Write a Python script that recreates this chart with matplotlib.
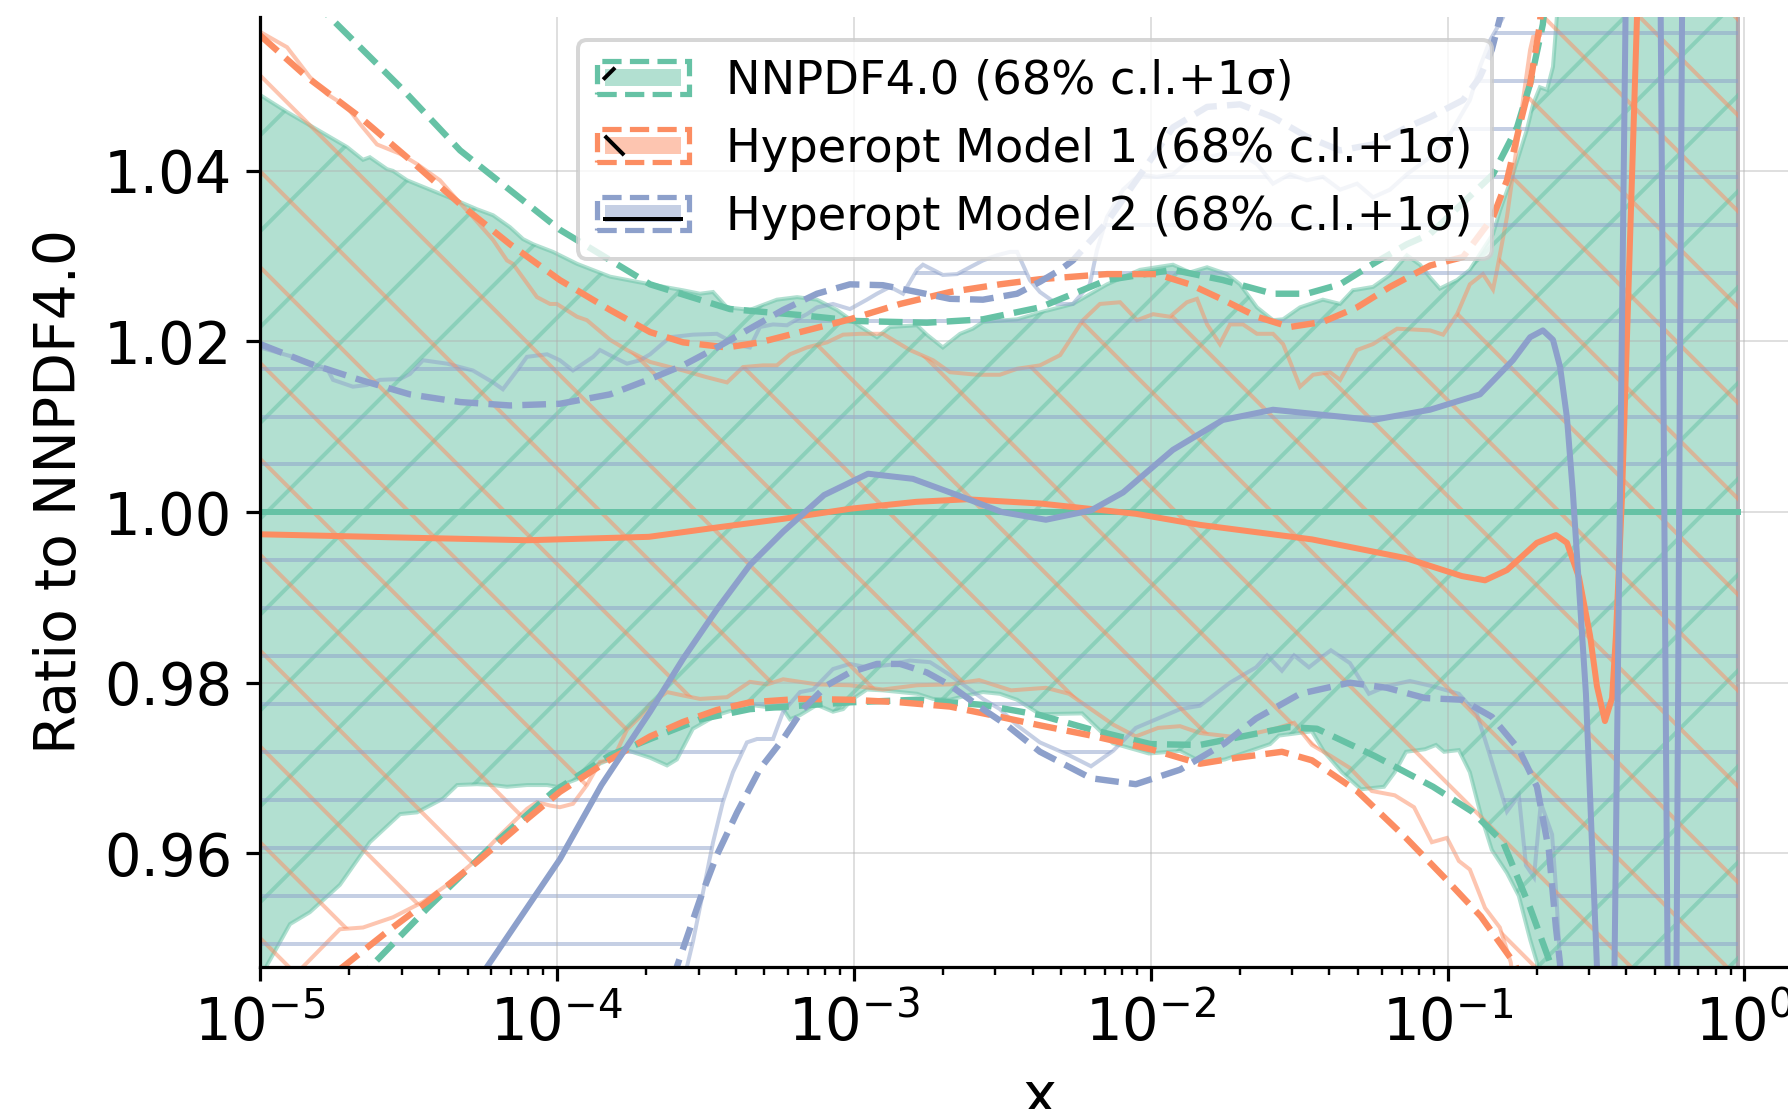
import matplotlib
matplotlib.use("Agg")
import numpy as np
import matplotlib.pyplot as plt
from matplotlib.legend_handler import HandlerBase
from matplotlib.patches import Rectangle
from matplotlib.lines import Line2D
from matplotlib.collections import LineCollection
from matplotlib.transforms import IdentityTransform

GREEN = "#66c2a5"
ORANGE = "#fc8d62"
BLUE = "#8da0cb"

labels = ["NNPDF4.0 (68% c.l.+1σ)",
          "Hyperopt Model 1 (68% c.l.+1σ)",
          "Hyperopt Model 2 (68% c.l.+1σ)"]
yticks = [0.96, 0.98, 1.00, 1.02, 1.04]

# all x values given as log10(x)
# ---- NNPDF4.0 ----
nn_c_lx = [-5.0, -0.022]
nn_c_y = [1.0, 1.0]

nn_up_lx = [-5.0, -4.909, -4.707, -4.653, -4.630, -4.572, -4.552, -4.505, -4.350, -4.269,
            -4.215, -4.158, -4.114, -4.080, -4.013, -3.932, -3.821, -3.686, -3.575, -3.518,
            -3.474, -3.427, -3.350, -3.259, -3.191, -3.124, -3.057, -2.989, -2.922, -2.878,
            -2.787, -2.754, -2.700, -2.642, -2.599, -2.565, -2.450, -2.373, -2.262, -2.147,
            -2.036, -1.925, -1.868, -1.810, -1.743, -1.699, -1.642, -1.588, -1.554, -1.497,
            -1.420, -1.362, -1.319, -1.251, -1.194, -1.137, -1.093, -1.059, -1.026, -0.968,
            -0.925, -0.847, -0.823, -0.780, -0.733, -0.712, -0.689, -0.665, -0.645, -0.632,
            -0.55, -0.022]
nn_up_y = [1.0489, 1.0469, 1.0428, 1.0413, 1.0416, 1.0402, 1.0400, 1.0389, 1.0367, 1.0355,
           1.0348, 1.0334, 1.0320, 1.0314, 1.0305, 1.0291, 1.0276, 1.0267, 1.0260, 1.0256,
           1.0258, 1.0240, 1.0237, 1.0249, 1.0252, 1.0249, 1.0237, 1.0220, 1.0205, 1.0217,
           1.0219, 1.0208, 1.0193, 1.0209, 1.0215, 1.0223, 1.0226, 1.0234, 1.0244, 1.0267,
           1.0284, 1.0290, 1.0281, 1.0287, 1.0279, 1.0267, 1.0240, 1.0225, 1.0226, 1.0240,
           1.0249, 1.0244, 1.0260, 1.0264, 1.0278, 1.0301, 1.0290, 1.0275, 1.0262, 1.0272,
           1.0284, 1.0326, 1.0354, 1.0396, 1.0448, 1.0478, 1.0498, 1.0495, 1.0522, 1.0580,
           1.12, 1.20]

nn_lo_lx = [-5.0, -4.976, -4.899, -4.832, -4.731, -4.630, -4.528, -4.471, -4.384, -4.336,
            -4.269, -4.215, -4.168, -4.101, -4.033, -4.000, -3.932, -3.899, -3.821, -3.764,
            -3.686, -3.629, -3.596, -3.542, -3.461, -3.350, -3.238, -3.215, -3.181, -3.124,
            -3.070, -3.036, -3.003, -2.956, -2.902, -2.844, -2.787, -2.733, -2.676, -2.619,
            -2.565, -2.508, -2.450, -2.373, -2.231, -2.127, -2.006, -1.901, -1.824, -1.750,
            -1.598, -1.568, -1.457, -1.416, -1.356, -1.292, -1.214, -1.178, -1.140, -1.076,
            -1.039, -1.012, -0.962, -0.925, -0.888, -0.851, -0.800, -0.760, -0.722, -0.699,
            -0.60, -0.022]
nn_lo_y = [0.9450, 0.9469, 0.9517, 0.9531, 0.9563, 0.9613, 0.9646, 0.9648, 0.9664, 0.9680,
           0.9681, 0.9680, 0.9678, 0.9680, 0.9680, 0.9678, 0.9687, 0.9699, 0.9710, 0.9721,
           0.9712, 0.9703, 0.9710, 0.9746, 0.9762, 0.9774, 0.9769, 0.9757, 0.9762, 0.9774,
           0.9766, 0.9769, 0.9781, 0.9792, 0.9791, 0.9789, 0.9787, 0.9781, 0.9780, 0.9785,
           0.9789, 0.9787, 0.9780, 0.9763, 0.9764, 0.9729, 0.9717, 0.9720, 0.9706, 0.9710,
           0.9728, 0.9738, 0.9743, 0.9719, 0.9695, 0.9675, 0.9678, 0.9695, 0.9719, 0.9722,
           0.9727, 0.9719, 0.9721, 0.9695, 0.9645, 0.9604, 0.9577, 0.9550, 0.9499, 0.9472,
           0.88, 0.80]

nn_sup_lx = [-5.0, -4.764, -4.518, -4.326, -3.990, -3.686, -3.417, -3.181, -2.989, -2.754,
             -2.565, -2.373, -2.147, -1.925, -1.757, -1.588, -1.474, -1.362, -1.251, -1.137,
             -1.059, -0.847, -0.766, -0.722, -0.679, -0.60, -0.022]
nn_sup_y = [1.0660, 1.0580, 1.0495, 1.0424, 1.0331, 1.0267, 1.0238, 1.0231, 1.0224, 1.0222,
            1.0226, 1.0240, 1.0272, 1.0284, 1.0272, 1.0256, 1.0256, 1.0267, 1.0291, 1.0314,
            1.0326, 1.0396, 1.0451, 1.0502, 1.0572, 1.09, 1.20]

nn_slo_lx = [-5.0, -4.619, -4.438, -4.215, -4.013, -3.821, -3.686, -3.518, -3.350, -3.013,
             -2.787, -2.565, -2.373, -2.2, -2.0, -1.834, -1.534, -1.440, -1.245, -1.049,
             -0.918, -0.813, -0.722, -0.655, -0.55, -0.022]
nn_slo_y = [0.9330, 0.9470, 0.9535, 0.9610, 0.9672, 0.9715, 0.9734, 0.9757, 0.9769, 0.9777,
            0.9780, 0.9774, 0.9762, 0.9745, 0.9728, 0.9727, 0.9748, 0.9746, 0.9714, 0.9678,
            0.9649, 0.9613, 0.9536, 0.9472, 0.93, 0.85]

# ---- Hyperopt Model 1 ----
m1_c_lx = [-5.0, -4.5, -4.1, -3.69, -3.46, -3.24, -3.01, -2.79, -2.62, -2.37,
           -2.05, -1.834, -1.457, -1.140, -0.952, -0.874, -0.800, -0.699, -0.635, -0.598,
           -0.557, -0.520, -0.497, -0.470, -0.446, -0.433, -0.413, -0.362, -0.34, -0.022]
m1_c_y = [0.9974, 0.9970, 0.9967, 0.9971, 0.9982, 0.9992, 1.0004, 1.0012, 1.0015, 1.0010,
          0.9998, 0.9985, 0.9968, 0.9946, 0.9925, 0.9920, 0.9932, 0.9964, 0.9973, 0.9964,
          0.9923, 0.9855, 0.9796, 0.9755, 0.9782, 0.9855, 1.0014, 1.0580, 1.08, 1.10]

m1_up_lx = [-5.0, -4.909, -4.832, -4.774, -4.707, -4.663, -4.606, -4.528, -4.471, -4.394,
            -4.336, -4.283, -4.215, -4.168, -4.148, -4.067, -4.023, -4.000, -3.932, -3.899,
            -3.821, -3.764, -3.686, -3.575, -3.494, -3.427, -3.373, -3.306, -3.259, -3.215,
            -3.158, -3.090, -3.036, -2.979, -2.902, -2.811, -2.733, -2.676, -2.585, -2.508,
            -2.450, -2.373, -2.305, -2.228, -2.171, -2.103, -2.046, -1.992, -1.935, -1.878,
            -1.844, -1.810, -1.767, -1.733, -1.689, -1.642, -1.588, -1.554, -1.497, -1.453,
            -1.396, -1.362, -1.305, -1.251, -1.170, -1.059, -1.015, -0.968, -0.925, -0.881,
            -0.847, -0.834, -0.800, -0.766, -0.746, -0.722, -0.712, -0.689, -0.672, -0.60,
            -0.022]
m1_up_y = [1.0563, 1.0545, 1.0510, 1.0490, 1.0475, 1.0455, 1.0431, 1.0420, 1.0408, 1.0389,
           1.0366, 1.0346, 1.0319, 1.0295, 1.0291, 1.0252, 1.0244, 1.0244, 1.0229, 1.0225,
           1.0202, 1.0190, 1.0176, 1.0166, 1.0158, 1.0152, 1.0170, 1.0172, 1.0172, 1.0185,
           1.0193, 1.0199, 1.0208, 1.0209, 1.0209, 1.0190, 1.0178, 1.0164, 1.0161, 1.0161,
           1.0168, 1.0172, 1.0184, 1.0225, 1.0244, 1.0246, 1.0225, 1.0232, 1.0229, 1.0246,
           1.0250, 1.0220, 1.0197, 1.0220, 1.0220, 1.0209, 1.0209, 1.0197, 1.0147, 1.0161,
           1.0164, 1.0155, 1.0190, 1.0197, 1.0215, 1.0213, 1.0208, 1.0232, 1.0267, 1.0279,
           1.0261, 1.0283, 1.0346, 1.0431, 1.0483, 1.0542, 1.0557, 1.0559, 1.0580, 1.12,
           1.25]

m1_lo_lx = [-5.0, -4.855, -4.731, -4.653, -4.552, -4.451, -4.370, -4.269, -4.192, -4.101,
            -4.067, -4.023, -3.990, -3.946, -3.899, -3.855, -3.811, -3.764, -3.720, -3.686,
            -3.629, -3.575, -3.518, -3.427, -3.350, -3.292, -3.238, -3.124, -3.013, -2.902,
            -2.787, -2.676, -2.578, -2.470, -2.353, -2.275, -2.201, -2.127, -2.050, -1.975,
            -1.901, -1.834, -1.709, -1.581, -1.517, -1.457, -1.393, -1.329, -1.255, -1.178,
            -1.113, -1.053, -1.002, -0.962, -0.925, -0.874, -0.824, -0.787, -0.70, -0.022]
m1_lo_y = [0.9416, 0.9467, 0.9511, 0.9513, 0.9525, 0.9543, 0.9563, 0.9593, 0.9621, 0.9652,
           0.9660, 0.9656, 0.9654, 0.9658, 0.9680, 0.9707, 0.9710, 0.9745, 0.9760, 0.9775,
           0.9789, 0.9785, 0.9781, 0.9783, 0.9801, 0.9798, 0.9804, 0.9798, 0.9797, 0.9792,
           0.9797, 0.9798, 0.9803, 0.9791, 0.9794, 0.9787, 0.9769, 0.9751, 0.9737, 0.9747,
           0.9749, 0.9741, 0.9736, 0.9746, 0.9753, 0.9727, 0.9714, 0.9700, 0.9673, 0.9668,
           0.9654, 0.9613, 0.9618, 0.9591, 0.9581, 0.9536, 0.9513, 0.9472, 0.92, 0.75]

m1_sup_lx = [-5.0, -4.842, -4.663, -4.495, -4.326, -4.158, -3.990, -3.821, -3.686, -3.575,
             -3.427, -3.316, -3.181, -3.013, -2.844, -2.676, -2.508, -2.373, -2.147, -1.979,
             -1.868, -1.757, -1.642, -1.531, -1.420, -1.305, -1.194, -1.059, -0.948, -0.847,
             -0.800, -0.756, -0.722, -0.689, -0.60, -0.022]
m1_sup_y = [1.0559, 1.0510, 1.0463, 1.0413, 1.0361, 1.0314, 1.0272, 1.0237, 1.0211, 1.0199,
            1.0193, 1.0199, 1.0211, 1.0226, 1.0244, 1.0258, 1.0267, 1.0273, 1.0279, 1.0279,
            1.0267, 1.0249, 1.0229, 1.0217, 1.0223, 1.0240, 1.0264, 1.0289, 1.0299, 1.0346,
            1.0389, 1.0455, 1.0502, 1.0572, 1.10, 1.20]

m1_slo_lx = [-5.0, -4.720, -4.572, -4.438, -4.269, -4.101, -3.990, -3.821, -3.686, -3.575,
             -3.461, -3.350, -3.181, -3.013, -2.844, -2.676, -2.508, -2.373, -2.2, -2.0,
             -1.834, -1.709, -1.558, -1.457, -1.305, -1.140, -1.012, -0.888, -0.773, -0.60,
             -0.022]
m1_slo_y = [0.9390, 0.9467, 0.9508, 0.9543, 0.9590, 0.9640, 0.9672, 0.9710, 0.9737, 0.9754,
            0.9768, 0.9777, 0.9781, 0.9780, 0.9777, 0.9772, 0.9760, 0.9750, 0.9738, 0.9722,
            0.9705, 0.9712, 0.9719, 0.9709, 0.9673, 0.9618, 0.9572, 0.9526, 0.9470, 0.93,
            0.85]

# ---- Hyperopt Model 2 ----
m2_c_lx = [-5.0, -4.235, -3.99, -3.85, -3.686, -3.575, -3.461, -3.350, -3.238, -3.10,
           -2.952, -2.801, -2.652, -2.501, -2.353, -2.201, -2.093, -1.925, -1.757, -1.588,
           -1.420, -1.251, -1.059, -0.891, -0.780, -0.722, -0.679, -0.645, -0.621, -0.598,
           -0.578, -0.534, -0.497, -0.46, -0.38, -0.295, -0.245, -0.24, -0.20, -0.022]
m2_c_y = [0.905, 0.9467, 0.9593, 0.9680, 0.9766, 0.9828, 0.9886, 0.9938, 0.9977, 1.0020,
          1.0045, 1.0039, 1.0020, 1.0000, 0.9991, 1.0002, 1.0023, 1.0073, 1.0108, 1.0120,
          1.0114, 1.0108, 1.0120, 1.0138, 1.0178, 1.0205, 1.0213, 1.0202, 1.0170, 1.0111,
          1.0023, 0.9787, 0.9468, 0.88, 1.12, 1.12, 0.88, 0.88, 1.12, 1.12]

m2_up_lx = [-5.0, -4.889, -4.774, -4.754, -4.687, -4.640, -4.596, -4.528, -4.495, -4.451,
            -4.370, -4.283, -4.215, -4.182, -4.134, -4.101, -4.033, -3.990, -3.946, -3.878,
            -3.855, -3.811, -3.764, -3.720, -3.686, -3.619, -3.542, -3.461, -3.393, -3.350,
            -3.316, -3.272, -3.225, -3.191, -3.158, -3.124, -3.070, -3.013, -2.956, -2.922,
            -2.878, -2.834, -2.787, -2.767, -2.733, -2.700, -2.652, -2.609, -2.565, -2.518,
            -2.474, -2.450, -2.407, -2.373, -2.316, -2.262, -2.205, -2.181, -2.147, -2.093,
            -2.036, -1.979, -1.925, -1.868, -1.810, -1.757, -1.699, -1.642, -1.588, -1.531,
            -1.474, -1.420, -1.362, -1.305, -1.251, -1.194, -1.137, -1.059, -0.992, -0.925,
            -0.891, -0.857, -0.813, -0.70, -0.022]
m2_up_y = [1.0193, 1.0182, 1.0168, 1.0155, 1.0147, 1.0149, 1.0155, 1.0156, 1.0162, 1.0178,
           1.0174, 1.0166, 1.0152, 1.0144, 1.0166, 1.0182, 1.0185, 1.0178, 1.0166, 1.0182,
           1.0190, 1.0182, 1.0174, 1.0178, 1.0185, 1.0205, 1.0208, 1.0209, 1.0196, 1.0193,
           1.0217, 1.0220, 1.0219, 1.0226, 1.0232, 1.0240, 1.0244, 1.0238, 1.0249, 1.0256,
           1.0264, 1.0256, 1.0284, 1.0290, 1.0284, 1.0278, 1.0279, 1.0287, 1.0295, 1.0301,
           1.0305, 1.0305, 1.0272, 1.0258, 1.0244, 1.0244, 1.0267, 1.0307, 1.0346, 1.0378,
           1.0396, 1.0393, 1.0396, 1.0413, 1.0416, 1.0420, 1.0420, 1.0408, 1.0385, 1.0396,
           1.0389, 1.0393, 1.0378, 1.0385, 1.0369, 1.0378, 1.0396, 1.0416, 1.0443, 1.0483,
           1.0522, 1.0553, 1.0580, 1.12, 1.25]

m2_lo_lx = [-5.0, -4.0, -3.562, -3.542, -3.508, -3.474, -3.441, -3.407, -3.360, -3.326,
            -3.272, -3.238, -3.181, -3.137, -3.070, -3.013, -2.956, -2.878, -2.811, -2.743,
            -2.676, -2.609, -2.565, -2.508, -2.450, -2.373, -2.275, -2.201, -2.127, -2.050,
            -1.901, -1.834, -1.733, -1.645, -1.608, -1.558, -1.517, -1.467, -1.416, -1.393,
            -1.329, -1.265, -1.204, -1.127, -1.053, -0.962, -0.901, -0.861, -0.800, -0.760,
            -0.736, -0.709, -0.686, -0.648, -0.635, -0.621, -0.55, -0.022]
m2_lo_y = [0.75, 0.88, 0.9467, 0.9496, 0.9554, 0.9613, 0.9660, 0.9695, 0.9730, 0.9734,
           0.9734, 0.9766, 0.9789, 0.9792, 0.9816, 0.9822, 0.9818, 0.9821, 0.9826, 0.9824,
           0.9809, 0.9792, 0.9781, 0.9769, 0.9750, 0.9730, 0.9715, 0.9702, 0.9720, 0.9747,
           0.9769, 0.9773, 0.9800, 0.9818, 0.9832, 0.9814, 0.9832, 0.9818, 0.9832, 0.9838,
           0.9823, 0.9787, 0.9796, 0.9802, 0.9796, 0.9787, 0.9763, 0.9719, 0.9649, 0.9668,
           0.9586, 0.9572, 0.9659, 0.9622, 0.9559, 0.9470, 0.85, 0.75]

m2_sup_lx = [-5.0, -4.832, -4.663, -4.495, -4.326, -4.158, -3.990, -3.821, -3.686, -3.575,
             -3.461, -3.350, -3.238, -3.124, -3.013, -2.902, -2.787, -2.676, -2.565, -2.450,
             -2.373, -2.305, -2.262, -2.147, -2.036, -1.925, -1.810, -1.699, -1.588, -1.474,
             -1.362, -1.251, -1.137, -1.059, -0.948, -0.891, -0.851, -0.834, -0.823, -0.70,
             -0.022]
m2_sup_y = [1.0197, 1.0174, 1.0155, 1.0138, 1.0129, 1.0125, 1.0127, 1.0138, 1.0156, 1.0172,
            1.0193, 1.0215, 1.0237, 1.0256, 1.0267, 1.0266, 1.0258, 1.0250, 1.0249, 1.0256,
            1.0270, 1.0284, 1.0295, 1.0340, 1.0395, 1.0451, 1.0475, 1.0478, 1.0463, 1.0440,
            1.0424, 1.0431, 1.0451, 1.0463, 1.0483, 1.0510, 1.0542, 1.0565, 1.0580, 1.10,
            1.20]

m2_slo_lx = [-5.0, -4.0, -3.596, -3.518, -3.461, -3.393, -3.316, -3.238, -3.171, -3.090,
             -3.013, -2.922, -2.844, -2.754, -2.676, -2.565, -2.484, -2.373, -2.201, -2.050,
             -1.901, -1.750, -1.645, -1.497, -1.329, -1.204, -1.076, -0.952, -0.851, -0.760,
             -0.699, -0.659, -0.635, -0.621, -0.55, -0.022]
m2_slo_y = [0.80, 0.906, 0.9467, 0.9546, 0.9598, 0.9648, 0.9699, 0.9734, 0.9769, 0.9797,
            0.9812, 0.9822, 0.9822, 0.9812, 0.9797, 0.9769, 0.9750, 0.9719, 0.9688, 0.9681,
            0.9698, 0.9729, 0.9758, 0.9787, 0.9800, 0.9794, 0.9782, 0.9780, 0.9760, 0.9722,
            0.9678, 0.9604, 0.9513, 0.9470, 0.85, 0.80]


def xs(lx):
    return 10 ** np.asarray(lx)


class BandKey:
    def __init__(self, color, stroke):
        self.color = color
        self.stroke = stroke


class BandHandler(HandlerBase):
    # filled box + one black hatch stroke + dashed outline
    def create_artists(self, legend, orig_handle, xdescent, ydescent, width,
                       height, fontsize, trans):
        x0, y0 = -xdescent, -ydescent
        p = 2.0
        xa, xb = x0 + p, x0 + width - p
        ya, yb = y0 + p, y0 + height - p
        fill = Rectangle((xa, ya), xb - xa, yb - ya, facecolor=orig_handle.color,
                         alpha=0.5, lw=0, transform=trans)
        h = yb - ya
        if orig_handle.stroke == "/":
            sx, sy = [xa, xa + 0.55 * h], [yb - 0.55 * h, yb]
        elif orig_handle.stroke == "\\":
            sx, sy = [xa + 0.1 * h, xa + 1.1 * h], [yb, ya]
        else:
            sx, sy = [xa, xb], [ya + 0.18 * h, ya + 0.18 * h]
        stroke = Line2D(sx, sy, color="black", lw=1.0, transform=trans)
        outer = Rectangle((x0, y0), width, height, facecolor="none",
                          edgecolor=orig_handle.color, ls="--", lw=1.3,
                          transform=trans)
        return [fill, stroke, outer]


W, H = 1788, 1109
DPI = 288
fig = plt.figure(figsize=(W / DPI, H / DPI), dpi=DPI)
ax = fig.add_axes([260 / W, 142 / H, 1558.7 / W, 950 / H])
ax.set_xscale("log")
ax.set_xlim(1e-5, 10 ** 0.25)
ax.set_ylim(0.94667, 1.05804)

HSTEP = 47.93  # pixel spacing of the hatch pattern


def hatch_lines(kind, phase):
    k = np.arange(-60, 60)
    if kind == "-":
        ys = phase + HSTEP * k
        return [[(-10, y), (W + 10, y)] for y in ys]
    c = phase + 2 * HSTEP * k
    if kind == "/":
        return [[(-10, -10 + ci), (W + 10, W + 10 + ci)] for ci in c]
    return [[(-10, 10 + ci), (W + 10, -W - 10 + ci)] for ci in c]


def band(up_lx, up_y, lo_lx, lo_y, color, kind, phase, filled):
    bx = np.concatenate([xs(up_lx), xs(lo_lx)[::-1]])
    by = np.concatenate([up_y, lo_y[::-1]])
    poly = ax.fill(bx, by, facecolor=color if filled else "none", edgecolor=color,
                   alpha=0.5, lw=1.0, zorder=1)[0]
    lc = LineCollection(hatch_lines(kind, phase), colors=color, alpha=0.5,
                        linewidths=1.0, transform=IdentityTransform(), zorder=1.1)
    lc.set_clip_box(ax.bbox)
    lc.set_clip_path(poly)
    ax.add_collection(lc, autolim=False)


band(nn_up_lx, nn_up_y, nn_lo_lx, nn_lo_y, GREEN, "/", 330.0, True)
band(m1_up_lx, m1_up_y, m1_lo_lx, m1_lo_y, ORANGE, "\\", 910.3, False)
band(m2_up_lx, m2_up_y, m2_lo_lx, m2_lo_y, BLUE, "-", 548.7, False)

for c_lx, c_y, su_lx, su_y, sl_lx, sl_y, col in [
        (nn_c_lx, nn_c_y, nn_sup_lx, nn_sup_y, nn_slo_lx, nn_slo_y, GREEN),
        (m1_c_lx, m1_c_y, m1_sup_lx, m1_sup_y, m1_slo_lx, m1_slo_y, ORANGE),
        (m2_c_lx, m2_c_y, m2_sup_lx, m2_sup_y, m2_slo_lx, m2_slo_y, BLUE)]:
    ax.plot(xs(c_lx), c_y, color=col, lw=1.5)
    ax.plot(xs(su_lx), su_y, color=col, lw=1.6, ls="--")
    ax.plot(xs(sl_lx), sl_y, color=col, lw=1.6, ls="--")

ax.set_yticks(yticks)
ax.set_yticklabels(["%.2f" % t for t in yticks])
ax.tick_params(labelsize=14.4)
ax.set_xlabel("x", fontsize=14.4)
ax.set_ylabel("Ratio to NNPDF4.0", fontsize=14.2)
ax.spines["top"].set_visible(False)
ax.spines["right"].set_visible(False)
ax.grid(True, which="major", color="#b0b0b0", alpha=0.5, lw=0.4)

keys = [BandKey(GREEN, "/"), BandKey(ORANGE, "\\"), BandKey(BLUE, "-")]
ax.legend(keys, labels, handler_map={BandKey: BandHandler()}, loc="upper left",
          bbox_to_anchor=(578 / W, 1 - 40 / H), bbox_transform=fig.transFigure,
          borderaxespad=0, fontsize=11.6)

fig.savefig("out.png", dpi=DPI)
